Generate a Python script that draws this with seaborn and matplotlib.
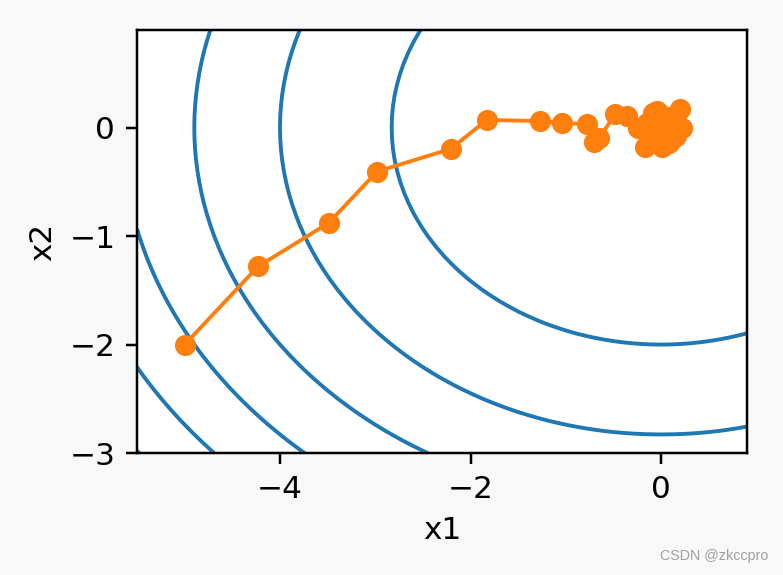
import numpy as np
import matplotlib
matplotlib.use('Agg')
import matplotlib.pyplot as plt
import seaborn as sns
import pandas as pd

# trajectory of noisy SGD
x1_trace = [-5.0, -4.23, -3.49, -2.98, -2.21, -1.83, -1.27, -1.04, -0.78, -0.70,
            -0.655, -0.48, -0.36, -0.24, -0.10, 0.06, 0.20, 0.22, 0.01, -0.17,
            -0.05, 0.10, -0.12, 0.04, 0.15, -0.02, -0.08, 0.08, 0.12, -0.15,
            0.02, -0.04, 0.06, -0.10, 0.14, 0.00, -0.06, 0.09, -0.13, 0.03,
            0.11, -0.03, 0.05, -0.09, 0.07, -0.01, 0.13, -0.07, 0.02, 0.04, 0.0]
x2_trace = [-2.0, -1.28, -0.88, -0.405, -0.197, 0.07, 0.06, 0.045, 0.03, -0.135,
            -0.10, 0.125, 0.11, 0.0, 0.22, 0.19, 0.17, 0.0, -0.18, -0.18,
            0.08, 0.05, -0.05, 0.12, -0.08, -0.12, 0.02, -0.14, 0.1, 0.04,
            -0.03, 0.15, 0.01, -0.1, 0.06, -0.06, 0.09, -0.02, -0.04, 0.07,
            -0.11, 0.03, -0.07, 0.13, 0.0, -0.09, 0.04, 0.11, -0.01, 0.02, 0.0]

levels = [8, 16, 24, 32, 40, 48]


def f(x1, x2):
    return x1 ** 2 + 2 * x2 ** 2


plt.rcParams['font.family'] = ['DejaVu Sans']
plt.rcParams['font.size'] = 10

dpi = 224
fig = plt.figure(figsize=(783 / dpi, 575 / dpi), dpi=dpi, facecolor='#f8f8f8')
ax = fig.add_axes([0.175, 0.212, 0.779, 0.736])

g1, g2 = np.meshgrid(np.arange(-5.5, 1.0, 0.1), np.arange(-3.0, 1.0, 0.1), indexing='ij')
ax.contour(g1, g2, f(g1, g2), levels=levels, colors='#1f77b4', linewidths=1.25)

df = pd.DataFrame({'x1': x1_trace, 'x2': x2_trace})
sns.lineplot(data=df, x='x1', y='x2', sort=False, marker='o', color='#ff7f0e',
             markersize=6.8, markeredgewidth=0, linewidth=1.25, ax=ax)

ax.set_xlim(-5.5, 0.9)
ax.set_ylim(-3.0, 0.9)
ax.set_xticks([-4, -2, 0])
ax.set_yticks([-3, -2, -1, 0])
ax.set_xlabel('x1')
ax.set_ylabel('x2')

fig.text(0.981, 0.021, 'CSDN @zkccpro', ha='right', va='bottom', fontsize=4.6,
         color='#a0a0a0', family=['Liberation Sans', 'DejaVu Sans'])

fig.savefig('out.png', dpi=dpi, facecolor=fig.get_facecolor())
